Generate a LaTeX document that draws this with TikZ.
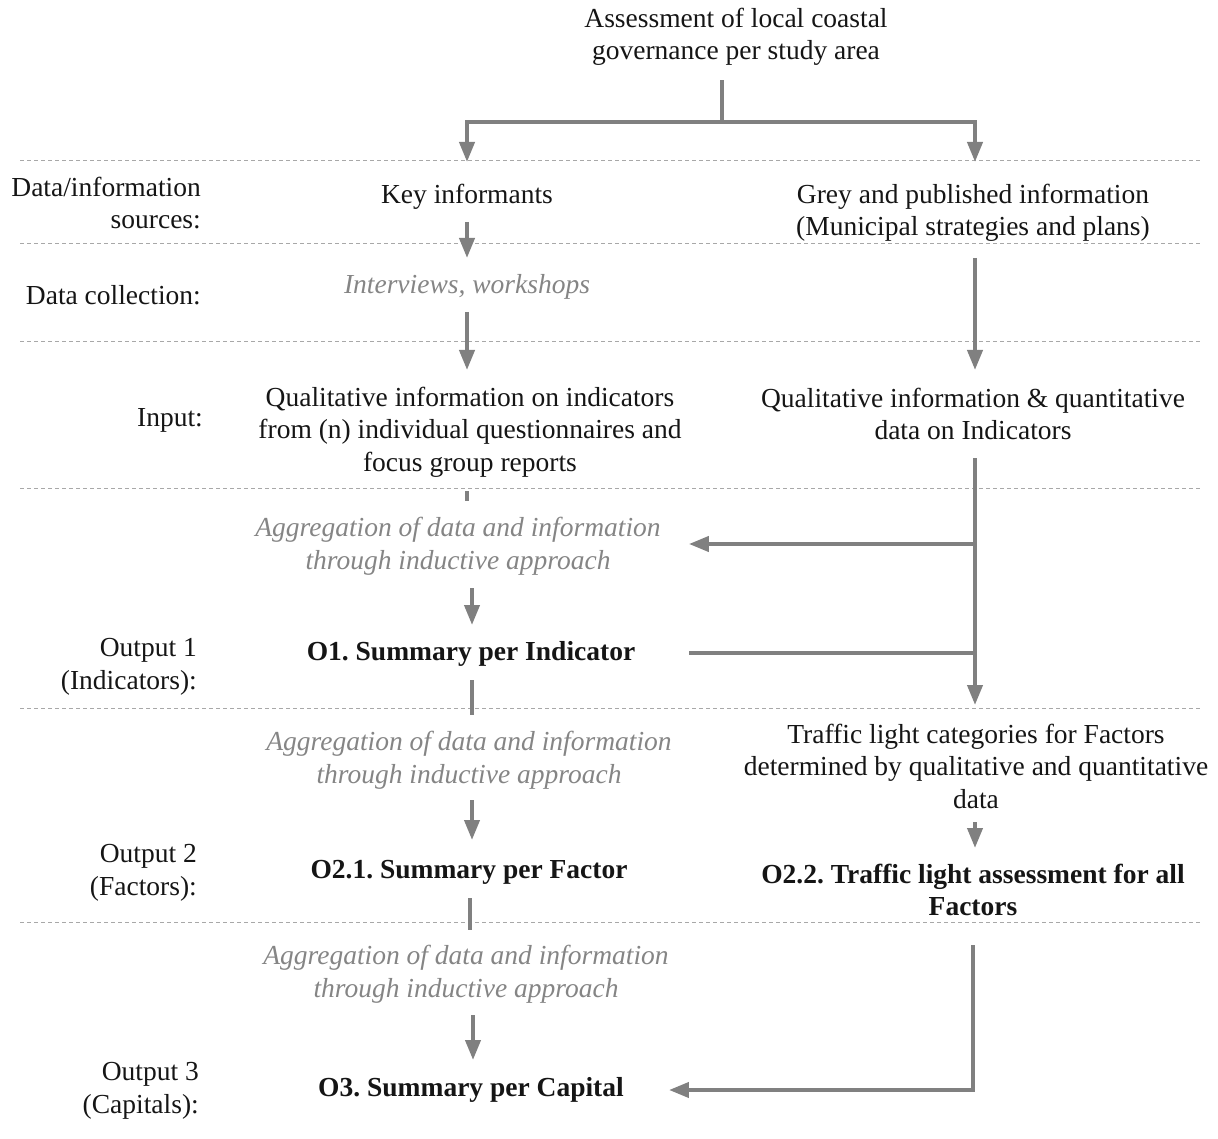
\documentclass[tikz,border=0pt]{standalone}
\usepackage{fontspec}
\setmainfont{Liberation Serif}
\usetikzlibrary{arrows.meta}
\definecolor{linegrey}{HTML}{808080}
\definecolor{textgrey}{HTML}{858585}
\definecolor{dashgrey}{HTML}{A8A8A8}
\definecolor{ink}{HTML}{151515}
\frenchspacing
\tikzset{
  every node/.style={font=\fontsize{27.5}{32.5}\selectfont, inner sep=0pt, text=ink, align=center},
  lbl/.style={anchor=east, align=right},
  note/.style={text=textgrey, font=\fontsize{27.5}{32.5}\selectfont\itshape},
  outp/.style={font=\fontsize{27.5}{32.5}\selectfont\bfseries},
  conn/.style={draw=linegrey, line width=4pt},
  arr/.style={conn, -{Triangle[length=20pt,width=15pt]}},
  sep/.style={draw=dashgrey, line width=1pt, dash pattern=on 4pt off 3pt}
}
\begin{document}
\begin{tikzpicture}[x=1pt,y=-1pt]
\useasboundingbox (0,0) rectangle (1218,1139);
% separators
\foreach \yy in {161,244,342,488,708,922}
  \draw[sep] (20,\yy) -- (1200,\yy);
% left labels
\node[lbl] (lab1) at (201,203) {Data/information\\sources:};
\node[lbl] (lab2) at (201,295) {Data collection:};
\node[lbl] (lab3) at (203,420) {Input:};
\node[lbl] (lab4) at (197,667) {Output 1\\(Indicators):};
\node[lbl] (lab5) at (197,873) {Output 2\\(Factors):};
\node[lbl] (lab6) at (199,1091) {Output 3\\(Capitals):};
% main nodes
\node (title) at (736,37) {Assessment of local coastal\\governance per study area};
\node (ki) at (467,197) {Key informants};
\node (grey) at (973,213) {Grey and published information\\(Municipal strategies and plans)};
\node[note] (iw) at (467,287) {Interviews, workshops};
\node (q1) at (470,432) {Qualitative information on indicators\\from (n) individual questionnaires and\\focus group reports};
\node (q2) at (973,414) {Qualitative information \& quantitative\\data on Indicators};
\node[note] (agg1) at (458,546) {Aggregation of data and information\\through inductive approach};
\node[outp] (o1) at (471,654) {O1. Summary per Indicator};
\node[note] (agg2) at (469,760) {Aggregation of data and information\\through inductive approach};
\node (tl) at (976,766) {Traffic light categories for Factors\\determined by qualitative and quantitative\\data};
\node[outp] (o21) at (469,872) {O2.1. Summary per Factor};
\node[outp] (o22) at (973,890) {O2.2. Traffic light assessment for all\\Factors};
\node[note] (agg3) at (466,974) {Aggregation of data and information\\through inductive approach};
\node[outp] (o3) at (471,1090) {O3. Summary per Capital};
% junctions
\coordinate (split) at (722,122);
\coordinate (j1) at (975,544);
\coordinate (j2) at (975,653);
% top split
\draw[conn, shorten >=43pt] (split) -- (split |- title.center);
\draw[arr, shorten >=35pt] (split) -| (ki.center);
\draw[arr, shorten >=51pt] (split) -| ([xshift=2pt]grey.center);
% left column
\draw[arr, shorten <=25pt, shorten >=29pt] (ki.center) -- (iw.center);
\draw[arr, shorten <=25pt, shorten >=62pt] (iw.center) -- (iw.center |- q1.center);
\draw[conn, shorten <=59pt, shorten >=45pt] (ki.center |- q1.center) -- (ki.center |- agg1.center);
\draw[arr, shorten <=42pt, shorten >=29pt] ([xshift=1pt]o1.center |- agg1.center) -- ([xshift=1pt]o1.center);
\draw[conn, shorten <=26pt, shorten >=45pt] ([xshift=1pt]o1.center) -- ([xshift=1pt]o1.center |- agg2.center);
\draw[arr, shorten <=40pt, shorten >=32pt] ([xshift=3pt]o21.center |- agg2.center) -- ([xshift=3pt]o21.center);
\draw[conn, shorten <=26pt, shorten >=44pt] ([xshift=1pt]o21.center) -- ([xshift=1pt]o21.center |- agg3.center);
\draw[arr, shorten <=41pt, shorten >=30pt] ([xshift=2pt]o3.center |- agg3.center) -- ([xshift=2pt]o3.center);
% right column
\draw[arr, shorten <=45pt, shorten >=44pt] ([xshift=2pt]grey.center) -- ([xshift=2pt]q2.center);
\draw[arr, shorten <=44pt, shorten >=61pt] ([xshift=2pt]q2.center) -- (j1) -- (j2) -- (j2 |- tl.center);
\draw[arr] (j1) -- ([xshift=28pt]j1 -| agg1.east);
\draw[conn] ([xshift=54pt]j2 -| o1.east) -- (j2);
\draw[arr, shorten <=56pt, shorten >=42pt] (j2 |- tl.center) -- (j2 |- o22.center);
\draw[arr, shorten <=55pt] (o22.center) |- ([xshift=45pt]o3.east);
\end{tikzpicture}
\end{document}
